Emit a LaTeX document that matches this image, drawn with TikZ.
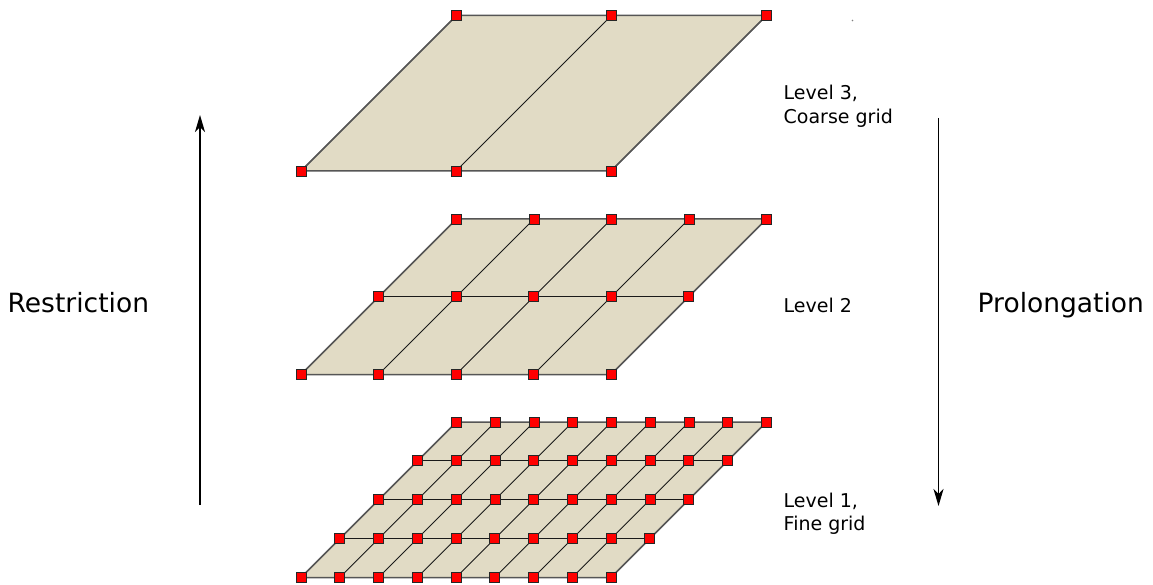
\documentclass[tikz,border=0pt]{standalone}
\usepackage{fontspec}
\setmainfont{DejaVu Sans}
\usetikzlibrary{arrows.meta}
\definecolor{gridfill}{HTML}{E1DBC5}
\definecolor{edgegray}{HTML}{555555}
\newcommand\mygrid[4]{%
  \foreach \i in {0,...,#3}{\foreach \j in {0,...,#4}{%
    \coordinate (#1-\i-\j) at ({301+\i*310/#3+\j*155.5/#4},{#2-\j*155.5/#4});}}
  \fill[gridfill] (#1-0-0) -- (#1-#3-0) -- (#1-#3-#4) -- (#1-0-#4) -- cycle;
  \foreach \j in {0,...,#4}{\draw[innerline] (#1-0-\j) -- (#1-#3-\j);}
  \foreach \i in {0,...,#3}{\draw[innerline] (#1-\i-0) -- (#1-\i-#4);}
  \draw[outerline] (#1-0-0) -- (#1-#3-0) -- (#1-#3-#4) -- (#1-0-#4) -- cycle;
  \foreach \i in {0,...,#3}{\foreach \j in {0,...,#4}{%
    \node[vert] (#1v-\i-\j) at (#1-\i-\j) {};}}
}
\begin{document}
\begin{tikzpicture}[x=1pt,y=-1pt,
  vert/.style={rectangle, draw=black!85, fill=red, minimum size=10pt, inner sep=0pt, line width=0.8pt},
  innerline/.style={black!90, line width=1pt},
  outerline/.style={edgegray, line width=1.5pt, line join=round},
  lbl/.style={font=\fontsize{19}{23.5}\selectfont, inner sep=0pt, align=left},
  big/.style={font=\fontsize{26.5}{30}\selectfont, inner sep=0pt},
  flow/.style={-{Stealth[length=17pt,width=10pt,inset=5pt]}, line width=1.4pt}]
\useasboundingbox (0,0) rectangle (1153,585);

\mygrid{gc}{171}{2}{1}
\mygrid{gm}{374.5}{4}{2}
\mygrid{gf}{577.5}{8}{4}

\fill[black!50] (852.5,20.5) circle (0.8);

\coordinate (rs) at (200,505);
\coordinate (re) at (200,115);
\draw[flow] (rs) -- (re);
\coordinate (ps) at (938.5,118);
\coordinate (pe) at (938.5,506);
\draw[flow] (ps) -- (pe);

\node[big, anchor=base west] (restr) at (7.5,312.7) {Restriction};
\node[big, anchor=base west] (prolong) at (977.5,312.7) {Prolongation};

\node[lbl, anchor=north west] (l3) at (783.5,85) {Level 3,\\Coarse grid};
\node[lbl, anchor=base west] (l2) at (783.5,312.3) {Level 2};
\node[lbl, anchor=north west] (l1) at (783.5,492.6) {Level 1,\\Fine grid};
\end{tikzpicture}
\end{document}
